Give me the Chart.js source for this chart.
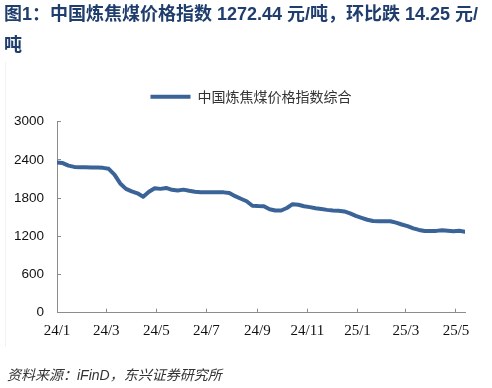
<!DOCTYPE html>
<html>
<head>
<meta charset="utf-8">
<script src="https://cdn.jsdelivr.net/npm/chart.js@4"></script>
<style>
  html, body { margin: 0; padding: 0; background: #fff; }
  #wrap { position: relative; width: 492px; height: 388px; overflow: hidden; }
  #chart { position: absolute; left: 0; top: 0; }
  #title {
    position: absolute; left: 4px; top: -1px; white-space: nowrap;
    font: bold 18px/31px "Liberation Sans", "Noto Sans CJK SC", sans-serif;
    color: #1f3d6d;
  }
  #source {
    position: absolute; left: 7px; top: 365px; white-space: nowrap;
    font: italic 14px/20px "Liberation Sans", "Noto Sans CJK SC", sans-serif;
    color: #333;
  }
  #frame { position: absolute; left: 5px; top: 62px; width: 1px; height: 285px; background: #f2f2f2; }
</style>
</head>
<body>
<div id="wrap">
  <div id="frame"></div>
  <canvas id="chart" width="492" height="388"></canvas>
  <div id="title">图1：中国炼焦煤价格指数 1272.44 元/吨，环比跌 14.25 元/<br>吨</div>
  <div id="source">资料来源：iFinD，东兴证券研究所</div>
</div>
<script>
const seriesName = "中国炼焦煤价格指数综合";

const dates = [
  "2024-01-01", "2024-01-08", "2024-01-15", "2024-01-22", "2024-01-29",
  "2024-02-05", "2024-02-12", "2024-02-19", "2024-02-26",
  "2024-03-04", "2024-03-11", "2024-03-18", "2024-03-25",
  "2024-04-01", "2024-04-08", "2024-04-15", "2024-04-22", "2024-04-29",
  "2024-05-06", "2024-05-13", "2024-05-20", "2024-05-27",
  "2024-06-03", "2024-06-10", "2024-06-17", "2024-06-24",
  "2024-07-01", "2024-07-08", "2024-07-15", "2024-07-22", "2024-07-29",
  "2024-08-05", "2024-08-12", "2024-08-19", "2024-08-26",
  "2024-09-02", "2024-09-09", "2024-09-16", "2024-09-23", "2024-09-30",
  "2024-10-07", "2024-10-14", "2024-10-21", "2024-10-28",
  "2024-11-04", "2024-11-11", "2024-11-18", "2024-11-25",
  "2024-12-02", "2024-12-09", "2024-12-16", "2024-12-23", "2024-12-30",
  "2025-01-06", "2025-01-13", "2025-01-20", "2025-01-27",
  "2025-02-03", "2025-02-10", "2025-02-17", "2025-02-24",
  "2025-03-03", "2025-03-10", "2025-03-17", "2025-03-24", "2025-03-31",
  "2025-04-07", "2025-04-14", "2025-04-21", "2025-04-28",
  "2025-05-05", "2025-05-12"
];

const values = [
  2360, 2350, 2310, 2290, 2285, 2283, 2280, 2280, 2275, 2260,
  2170, 2030, 1945, 1905, 1875, 1820, 1900, 1955, 1945, 1960,
  1930, 1920, 1933, 1915, 1900, 1891, 1890, 1890, 1890, 1890,
  1880, 1830, 1790, 1750, 1680, 1675, 1672, 1625, 1605, 1605,
  1645, 1705, 1695, 1672, 1658, 1640, 1628, 1615, 1605, 1600,
  1590, 1560, 1520, 1490, 1460, 1440, 1437, 1437, 1437, 1415,
  1385, 1360, 1325, 1300, 1282, 1283, 1285, 1296, 1287, 1280,
  1286.69, 1272.44
];

const tickDates = ["2024-01-01", "2024-03-01", "2024-05-01", "2024-07-01", "2024-09-01",
  "2024-11-01", "2025-01-01", "2025-03-01", "2025-05-01"];
const tickLabels = ["24/1", "24/3", "24/5", "24/7", "24/9", "24/11", "25/1", "25/3", "25/5"];

const yMin = 0;
const yMax = 3000;
const yStep = 600;

// days since 2024-01-01, used as the x value
function dayOf(s) {
  const [y, m, d] = s.split("-").map(Number);
  return (Date.UTC(y, m - 1, d) - Date.UTC(2024, 0, 1)) / 86400000;
}

const points = dates.map((d, i) => ({ x: dayOf(d), y: values[i] }));
const tickDays = tickDates.map(dayOf);

const axisColor = "#8c8c8c";

// more room under the legend, and the legend sits a bit right of centre
const legendTweak = {
  id: "legendTweak",
  beforeInit(chart) {
    if (!chart.legend) return;
    const fit = chart.legend.fit;
    chart.legend.fit = function () {
      fit.bind(chart.legend)();
      this.height += 8;
    };
  },
  afterLayout(chart) {
    if (!chart.legend) return;
    chart.legend.left += 18.5;
    chart.legend.right += 18.5;
  },
};

new Chart(document.getElementById("chart").getContext("2d"), {
  type: "line",
  data: {
    datasets: [
      {
        label: seriesName,
        data: points,
        borderColor: "#3a6397",
        backgroundColor: "#3a6397",
        borderWidth: 4,
        pointRadius: 0,
        tension: 0,
        borderJoinStyle: "round",
        borderCapStyle: "round",
      },
    ],
  },
  options: {
    responsive: false,
    animation: false,
    layout: {
      padding: { left: 0, right: 27, top: 79.7, bottom: 0 },
    },
    plugins: {
      legend: {
        position: "top",
        labels: {
          usePointStyle: true,
          pointStyle: "line",
          pointStyleWidth: 40,
          color: "#333",
          font: { family: "'Noto Sans CJK SC', sans-serif", size: 14 },
        },
      },
      tooltip: { enabled: false },
    },
    scales: {
      x: {
        type: "linear",
        min: dayOf(dates[0]),
        max: dayOf(dates[dates.length - 1]),
        afterBuildTicks: (scale) => {
          scale.ticks = tickDays.map((v) => ({ value: v }));
        },
        afterFit: (scale) => {
          scale.height = 75.3;
        },
        grid: {
          drawOnChartArea: false,
          color: axisColor,
          tickLength: -4,
        },
        border: { color: axisColor, width: 1 },
        ticks: {
          autoSkip: false,
          maxRotation: 0,
          padding: 13,
          color: "#111",
          font: { family: "'Liberation Serif', serif", size: 15 },
          callback: (value, index) => tickLabels[index],
        },
      },
      y: {
        min: yMin,
        max: yMax,
        afterFit: (scale) => {
          scale.width = 57;
        },
        grid: {
          drawOnChartArea: false,
          color: axisColor,
          tickLength: -4,
        },
        border: { color: axisColor, width: 1 },
        ticks: {
          stepSize: yStep,
          padding: 17,
          color: "#111",
          font: { family: "'Liberation Sans', sans-serif", size: 13.5 },
          callback: (value) => String(value),
        },
      },
    },
  },
  plugins: [legendTweak],
});
</script>
</body>
</html>
